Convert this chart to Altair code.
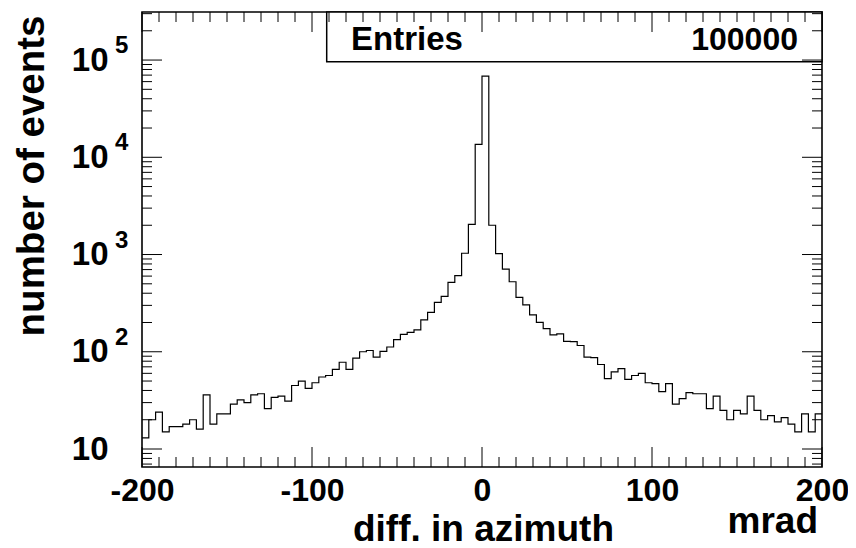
import altair as alt
import pandas as pd

# ---- data ----
bin_low = -200.0
bin_width = 4.0
counts = [13, 20, 24, 15, 17, 17, 18, 20, 16, 36,
          18, 23, 23, 29, 32, 30, 36, 37, 26, 34,
          35, 31, 45, 50, 42, 48, 55, 57, 66, 78,
          66, 86, 100, 103, 88, 101, 112, 133, 151, 158,
          168, 213, 254, 322, 371, 516, 608, 1031, 2040, 13600,
          68400, 2000, 1021, 707, 525, 362, 303, 239, 201, 173,
          149, 153, 128, 127, 116, 88, 87, 74, 53, 62,
          67, 52, 57, 60, 48, 47, 39, 47, 29, 33,
          38, 37, 37, 26, 35, 25, 20, 25, 23, 35,
          25, 20, 22, 19, 21, 18, 15, 23, 15, 23]
x_major = [-200, -100, 0, 100, 200]
x_minor = [v for v in range(-190, 200, 10) if v % 100 != 0]
y_major = [10, 100, 1000, 10000, 100000]
y_exponents = [2, 3, 4, 5]
y_minor = [m * 10 ** k for k in range(0, 6) for m in range(2, 10)
           if 6.53 <= m * 10 ** k <= 312000]
entries_label = "Entries"
entries_value = "100000"
x_title = "diff. in azimuth"
x_unit = "mrad"
y_title = "number of events"

W, H = 680, 455
FONT = "Liberation Sans"

edges = [bin_low + bin_width * i for i in range(len(counts))] + [bin_low + bin_width * len(counts)]
hist = pd.DataFrame({"x": edges, "n": counts + [counts[-1]]})

xs = alt.Scale(domain=[-200, 200], nice=False, zero=False)
ys = alt.Scale(type="log", domain=[6.53, 312000], nice=False)

xaxis = alt.Axis(
    values=x_major, ticks=False, tickSize=0, domain=False, grid=False,
    labelExpr="datum.value < 0 ? '-' + abs(datum.value) : '' + datum.value",
    labelFont=FONT, labelFontWeight="bold", labelFontSize=32, labelColor="black",
    labelPadding=8, labelFlush=False, labelOverlap=False, labelBound=False,
    title=x_title, titleFont=FONT, titleFontWeight="bold", titleFontSize=37,
    titleColor="black", titleX=341, titleY=73, titleAlign="center",
    titleBaseline="alphabetic")
yaxis = alt.Axis(
    values=y_major, labelExpr="'10'", ticks=False, tickSize=0, domain=False,
    grid=False, labelFont=FONT, labelFontWeight="bold", labelFontSize=33,
    labelColor="black", labelPadding=34, labelOverlap=False, labelBound=False,
    labelFlush=False, labelBaseline="middle",
    title=y_title, titleFont=FONT, titleFontWeight="bold", titleFontSize=38.5,
    titleColor="black", titleAngle=270, titleX=-99, titleY=3,
    titleAlign="right", titleBaseline="alphabetic")

box = alt.Chart(pd.DataFrame({"a": [0]})).mark_rect(
    fill="white", stroke="black", strokeWidth=1.5
).encode(x=alt.value(184.7), x2=alt.value(W), y=alt.value(0), y2=alt.value(49.7))

line = alt.Chart(hist).mark_line(
    interpolate="step-after", color="black", strokeWidth=1.2
).encode(
    x=alt.X("x:Q", scale=xs, axis=xaxis, title=x_title),
    y=alt.Y("n:Q", scale=ys, axis=yaxis, title=y_title),
)

dfxM = pd.DataFrame({"x": x_major})
dfxm = pd.DataFrame({"x": x_minor})
dfyM = pd.DataFrame({"n": y_major})
dfym = pd.DataFrame({"n": y_minor})


def xt(df, y1, y2):
    return alt.Chart(df).mark_rule(color="black", strokeWidth=1).encode(
        x=alt.X("x:Q", scale=xs, axis=xaxis, title=x_title),
        y=alt.value(y1), y2=alt.value(y2))


def yt(df, x1, x2):
    return alt.Chart(df).mark_rule(color="black", strokeWidth=1).encode(
        y=alt.Y("n:Q", scale=ys, axis=yaxis, title=y_title),
        x=alt.value(x1), x2=alt.value(x2))


ticks = [
    xt(dfxM, H, H - 20), xt(dfxM, 0, 20), xt(dfxm, H, H - 10), xt(dfxm, 0, 10),
    yt(dfyM, 0, 20), yt(dfyM, W, W - 20), yt(dfym, 0, 10), yt(dfym, W, W - 10),
]

expo = alt.Chart(pd.DataFrame({"n": y_major[1:], "e": [str(e) for e in y_exponents]})).mark_text(
    font=FONT, fontWeight="bold", fontSize=24, align="left", baseline="middle",
    dy=-14, color="black"
).encode(y=alt.Y("n:Q", scale=ys, axis=yaxis, title=y_title), x=alt.value(-27), text="e:N")

ent1 = alt.Chart(pd.DataFrame({"t": [entries_label]})).mark_text(
    font=FONT, fontWeight="bold", fontSize=33, align="left", baseline="alphabetic",
    color="black").encode(text="t:N", x=alt.value(209), y=alt.value(38))
ent2 = alt.Chart(pd.DataFrame({"t": [entries_value]})).mark_text(
    font=FONT, fontWeight="bold", fontSize=32, align="right", baseline="alphabetic",
    color="black").encode(text="t:N", x=alt.value(656), y=alt.value(38))
unit = alt.Chart(pd.DataFrame({"t": [x_unit]})).mark_text(
    font=FONT, fontWeight="bold", fontSize=37, align="right", baseline="alphabetic",
    color="black").encode(text="t:N", x=alt.value(676), y=alt.value(521))

chart = alt.layer(box, line, *ticks, expo, ent1, ent2, unit).properties(
    width=W, height=H,
    autosize=alt.AutoSizeParams(type="none"),
    padding={"left": 134, "top": 4, "right": 26, "bottom": 80},
    background="white",
).configure_view(stroke="black", strokeWidth=1.6)

chart.save("out.html", embed_options={"renderer": "svg", "actions": False})
